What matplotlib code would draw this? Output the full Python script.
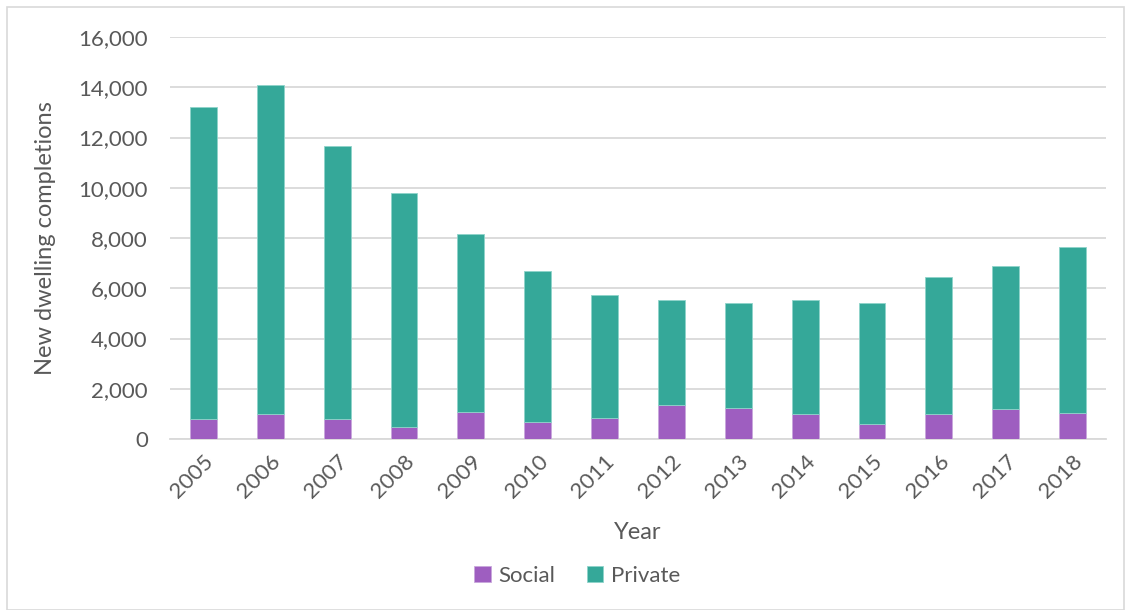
import numpy as np
import matplotlib.pyplot as plt
from matplotlib.patches import Rectangle
from matplotlib.ticker import FuncFormatter

plt.rcParams['font.family'] = ['Lato', 'DejaVu Sans']

years = ['2005', '2006', '2007', '2008', '2009', '2010', '2011',
         '2012', '2013', '2014', '2015', '2016', '2017', '2018']
social = [800, 1000, 780, 470, 1060, 690, 820,
          1350, 1230, 980, 610, 1000, 1190, 1035]
total = [13210, 14080, 11660, 9810, 8160, 6700, 5750,
         5550, 5405, 5520, 5405, 6450, 6900, 7660]
private = [t - s for t, s in zip(total, social)]

c_social = '#9e5ec0'
c_private = '#35a899'
txt = '#595959'

fig = plt.figure(figsize=(11.31, 6.10), dpi=100)
ax = fig.add_axes([170 / 1131, 1 - 439 / 610, (1106 - 170) / 1131, (439 - 37) / 610])

# outer chart frame
fig.patches.append(Rectangle((7 / 1131, 0), 1 - 14 / 1131, 1 - 7 / 610,
                             transform=fig.transFigure, fill=False,
                             edgecolor='#d9d9d9', linewidth=1.2))

x = np.arange(len(years))
ax.bar(x, social, width=0.4, color=c_social, edgecolor='#c9a8dc',
       linewidth=0.6, label='Social', zorder=3)
ax.bar(x, private, width=0.4, bottom=social, color=c_private,
       edgecolor='#8fd3ca', linewidth=0.6, label='Private', zorder=3)

ax.set_xlim(-0.5, len(years) - 0.5)
ax.set_ylim(0, 16000)
ax.set_yticks(np.arange(0, 16001, 2000))
ax.yaxis.set_major_formatter(FuncFormatter(lambda v, p: f'{int(v):,}'))
ax.grid(axis='y', color='#d9d9d9', linewidth=1.3, zorder=0)
for s in ['left', 'right', 'top']:
    ax.spines[s].set_visible(False)
ax.spines['bottom'].set_color('#d9d9d9')
ax.spines['bottom'].set_linewidth(1.3)
ax.tick_params(length=0, colors=txt, labelsize=16)
ax.tick_params(axis='y', pad=16)

ax.set_xticks(x)
ax.set_xticklabels(years, rotation=45, ha='right', rotation_mode='anchor')
ax.tick_params(axis='x', pad=9)

ax.set_ylabel('New dwelling completions', fontsize=17, color=txt, labelpad=16)
ax.set_xlabel('Year', fontsize=17, color=txt, labelpad=14)

ax.legend(loc='upper center', bbox_to_anchor=(0.435, -0.265), ncol=2,
          frameon=False, fontsize=16, labelcolor=txt, handlelength=0.75,
          handleheight=0.75, handletextpad=0.35, columnspacing=1.4)

fig.savefig('out.png', dpi=100)
